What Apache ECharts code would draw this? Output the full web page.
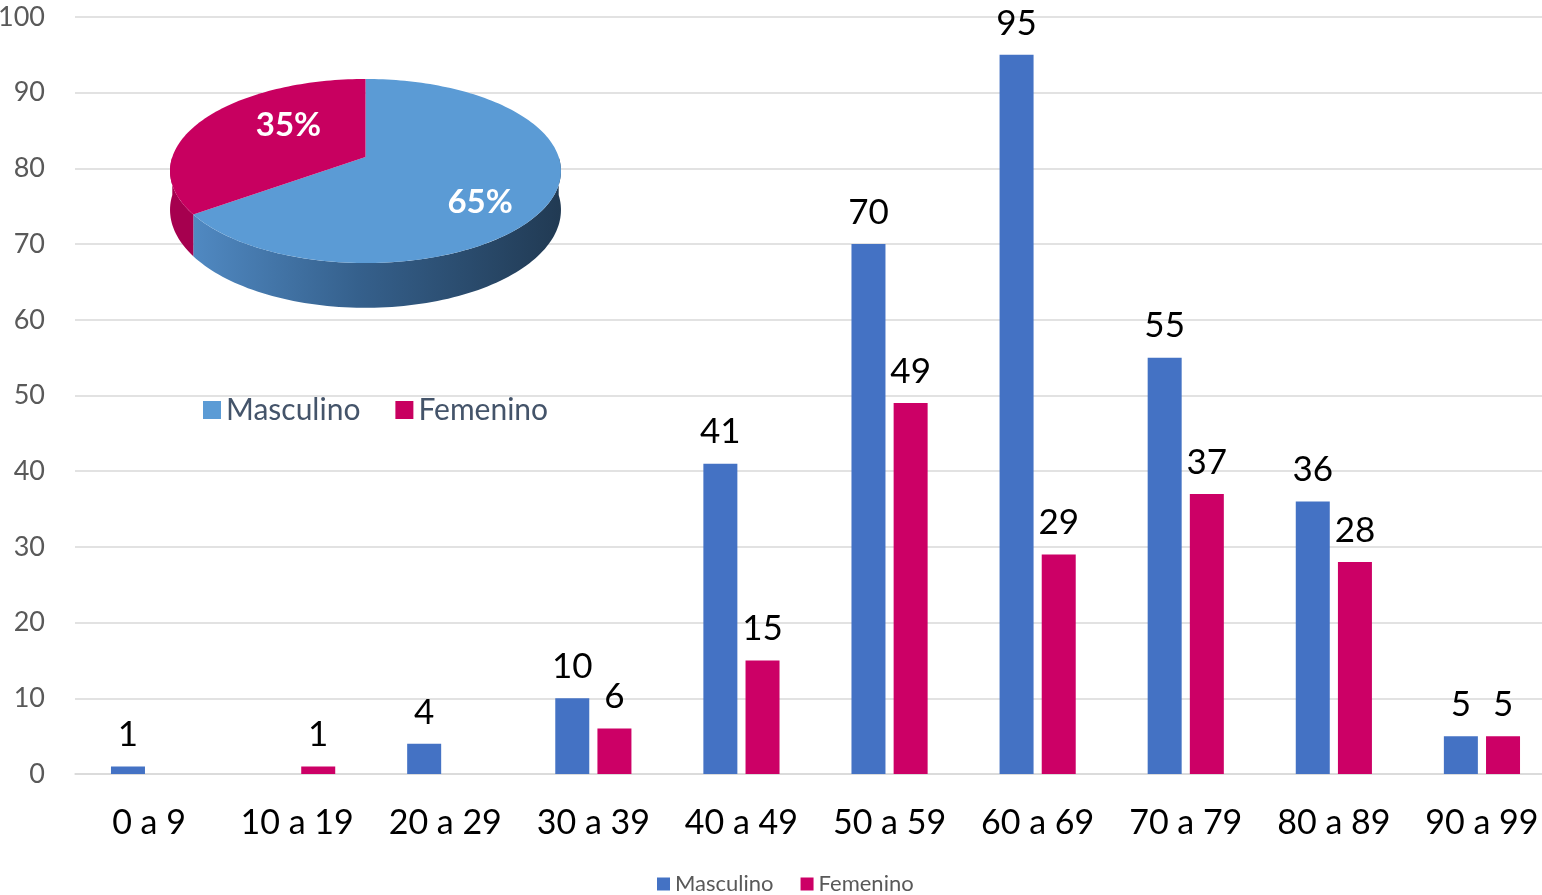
<!DOCTYPE html>
<html><head><meta charset="utf-8">
<script src="https://cdn.jsdelivr.net/npm/echarts@6/dist/echarts.min.js"></script>
<style>html,body{margin:0;padding:0;background:#fff}#c{width:1542px;height:895px}</style>
</head><body><div id="c"></div>
<script>
const categories = ['0 a 9','10 a 19','20 a 29','30 a 39','40 a 49','50 a 59','60 a 69','70 a 79','80 a 89','90 a 99'];
const masculino = [1, 0, 4, 10, 41, 70, 95, 55, 36, 5];
const femenino  = [0, 1, 0, 6, 15, 49, 29, 37, 28, 5];
const seriesNames = ['Masculino', 'Femenino'];
const sum = a => a.reduce((s, v) => s + v, 0);
const pieValues = [sum(masculino), sum(femenino)];

const FONT = 'Lato, "Open Sans", sans-serif';
// pie geometry (perspective ellipse)
const P = {cx: 365.5, cy: 157, rx: 193.2, ry: 89.9, k: 0.152, depth: 38};
function proj(deg, f) {
  const t = deg * Math.PI / 180;
  const u = f * Math.cos(t), v = f * Math.sin(t);
  const s = 1 / (1 + P.k * v);
  return [P.cx + P.rx * u * s, P.cy - P.ry * v * s, s];
}
const pieTopColors = ['#5B9BD5', '#C80060'];
const pieSideColors = [
  {type: 'linear', x: 193, y: 0, x2: 561, y2: 0, global: true,
   colorStops: [{offset: 0, color: '#5089C2'}, {offset: 0.45, color: '#35608C'}, {offset: 1, color: '#213A53'}]},
  '#A6004F'
];
const labelShift = [[7, 20], [22, -8]];

function renderPie(params, api) {
  const i = params.dataIndex;
  const total = sum(pieValues);
  let cum = 0;
  for (let j = 0; j < i; j++) cum += pieValues[j];
  const val = api.value(0);
  const a = 90 - cum / total * 360;
  const b = a - val / total * 360;
  const children = [];
  const lo = Math.max(b, -180), hi = Math.min(a, 0);
  if (hi > lo) {
    const up = [], low = [];
    const M = Math.max(2, Math.ceil((hi - lo) / 1.5));
    for (let n = 0; n <= M; n++) {
      const p = proj(hi - (hi - lo) * n / M, 1);
      up.push([p[0], p[1]]);
      low.push([p[0], p[1] + P.depth * p[2]]);
    }
    children.push({type: 'polygon', shape: {points: up.concat(low.reverse())},
      style: {fill: pieSideColors[i], stroke: null}, z2: 1});
  }
  const top = [[P.cx, P.cy]];
  const N = Math.max(2, Math.ceil((a - b) / 1.5));
  for (let n = 0; n <= N; n++) {
    const p = proj(a - (a - b) * n / N, 1);
    top.push([p[0], p[1]]);
  }
  children.push({type: 'polygon', shape: {points: top},
    style: {fill: pieTopColors[i], stroke: null}, z2: 2});
  const lp = proj((a + b) / 2, 0.6);
  children.push({type: 'text', x: lp[0] + labelShift[i][0], y: lp[1] + labelShift[i][1], z2: 3,
    style: {text: Math.round(val / total * 100) + '%', fill: '#fff',
      fontSize: 33, fontWeight: 'bold', fontFamily: FONT, align: 'center', verticalAlign: 'middle'}});
  return {type: 'group', children};
}

const labelCfg = {
  show: true, position: 'top', distance: 14, color: '#000', fontSize: 35, fontFamily: FONT, lineHeight: 35,
  formatter: p => (p.value ? String(p.value) : '')
};

const chart = echarts.init(document.getElementById('c'), null, {renderer: 'canvas'});
chart.setOption({
  animation: false,
  backgroundColor: '#fff',
  textStyle: {fontFamily: FONT},
  grid: {left: 75, right: -14, top: 17, bottom: 121, containLabel: false, outerBoundsMode: 'none'},
  legend: [
    {data: seriesNames, left: 657, top: 873, padding: 0, itemWidth: 13, itemHeight: 13, itemGap: 27, icon: 'rect',
     textStyle: {fontSize: 22, color: '#595959', fontFamily: FONT, lineHeight: 22}},
    {data: [{name: 'Masculino', itemStyle: {color: '#5B9BD5'}}, {name: 'Femenino', itemStyle: {color: '#C80060'}}],
     left: 203, top: 395, padding: 0, itemWidth: 18, itemHeight: 18, itemGap: 35, icon: 'rect',
     textStyle: {fontSize: 30, color: '#44546A', fontFamily: FONT, lineHeight: 30}}
  ],
  xAxis: {
    type: 'category', data: categories,
    axisLine: {lineStyle: {color: '#D9D9D9', width: 1.5}},
    axisTick: {show: false},
    axisLabel: {interval: 0, fontSize: 34, color: '#000', margin: 32, lineHeight: 34, fontFamily: FONT}
  },
  yAxis: {
    type: 'value', min: 0, max: 100, interval: 10,
    axisLine: {show: false}, axisTick: {show: false},
    axisLabel: {fontSize: 27, color: '#595959', margin: 30, fontFamily: FONT},
    splitLine: {lineStyle: {color: '#D9D9D9', width: 1.5}}
  },
  series: [
    {name: 'Masculino', type: 'bar', data: masculino, barWidth: 34, barGap: '24%',
     itemStyle: {color: '#4472C4'}, label: labelCfg},
    {name: 'Femenino', type: 'bar', data: femenino, barWidth: 34, barGap: '24%',
     itemStyle: {color: '#CC0066'}, label: labelCfg},
    {name: 'pie', type: 'custom', coordinateSystem: 'none', silent: true, z: 5,
     data: pieValues.map((v, i) => ({value: v, name: seriesNames[i]})),
     renderItem: renderPie}
  ]
});
</script></body></html>
